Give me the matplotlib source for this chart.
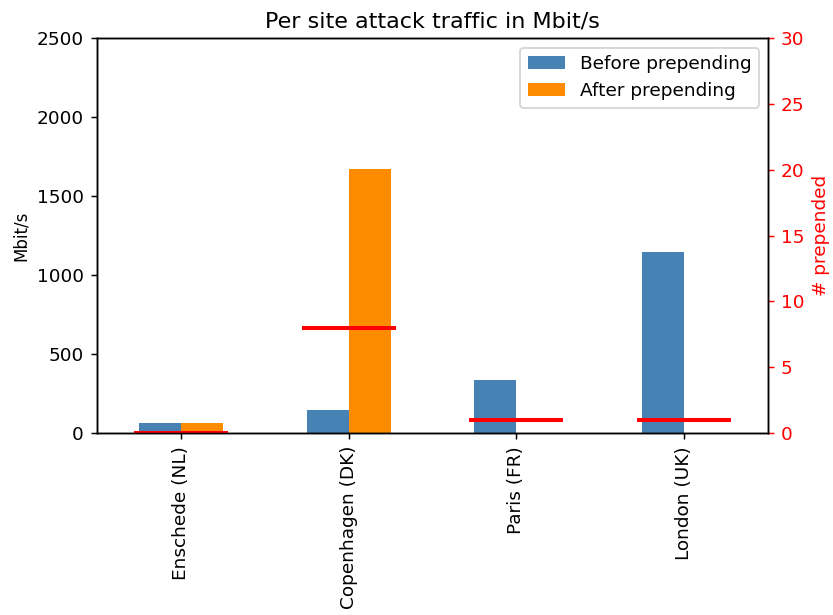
import numpy as np
import matplotlib
matplotlib.use('Agg')
import matplotlib.pyplot as plt

sites = ['Enschede (NL)', 'Copenhagen (DK)', 'Paris (FR)', 'London (UK)']
before = [60, 145, 335, 1150]
after = [60, 1675, 0, 0]
prepended = [0, 8, 1, 1]

DPI = 133.33
fig, ax = plt.subplots(figsize=(833 / DPI, 615 / DPI), dpi=DPI)
fig.subplots_adjust(left=0.1164, right=0.922, top=0.9374, bottom=0.296)

x = np.arange(len(sites))
w = 0.25
ax.bar(x - w / 2, before, w, color='steelblue', label='Before prepending')
ax.bar(x + w / 2, after, w, color='darkorange', label='After prepending')
ax.set_xlim(-0.5, len(sites) - 0.5)
ax.set_ylim(0, 2500)
ax.set_xticks(x)
ax.set_xticklabels(sites, rotation=90)
ax.set_ylabel('Mbit/s', fontsize=9)
ax.set_title('Per site attack traffic in Mbit/s')
ax.legend(loc='upper right')

ax2 = ax.twinx()
ax2.hlines(prepended, x - 0.28, x + 0.28, colors='red', linewidth=2.2)
ax2.set_ylim(0, 30)
ax2.set_ylabel('# prepended', color='red')
ax2.tick_params(axis='y', colors='red')

fig.savefig('out.png', dpi=DPI)
